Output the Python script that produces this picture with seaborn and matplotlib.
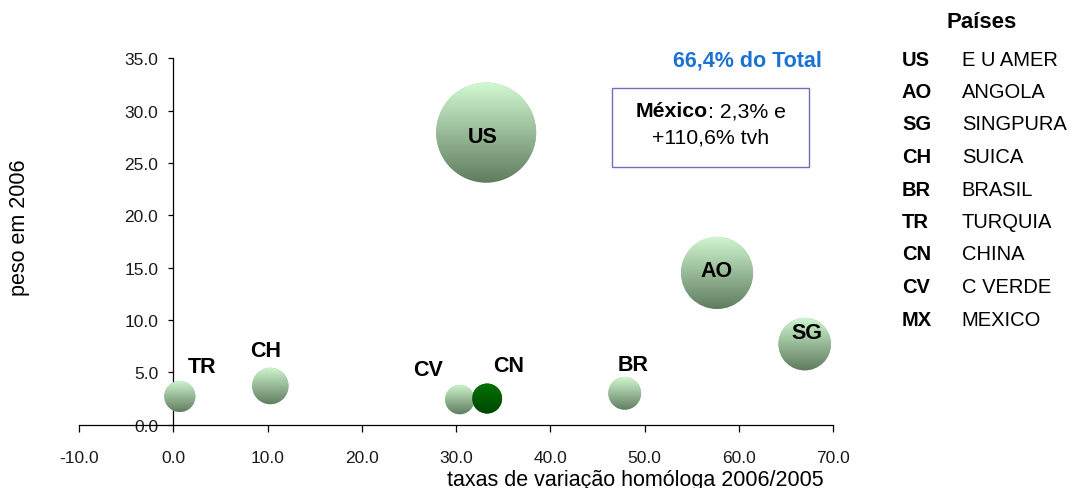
import matplotlib
matplotlib.use("Agg")
import matplotlib.pyplot as plt
import seaborn as sns
import numpy as np
import pandas as pd
from matplotlib.patches import Circle, Rectangle
from matplotlib.transforms import IdentityTransform
from matplotlib.colors import to_rgb

# ---------------- data ----------------
codes = ["US", "AO", "SG", "CH", "BR", "TR", "CN", "CV"]
tvh = [33.2, 57.7, 67.0, 10.3, 47.9, 0.7, 33.3, 30.4]      # taxa de variação homóloga (%)
peso = [27.9, 14.5, 7.7, 3.7, 3.0, 2.7, 2.5, 2.4]          # peso em 2006 (%)
serie = ["base", "base", "base", "base", "base", "base", "destaque", "base"]

legend_codes = ["US", "AO", "SG", "CH", "BR", "TR", "CN", "CV", "MX"]
legend_names = ["E U AMER", "ANGOLA", "SINGPURA", "SUICA", "BRASIL",
                "TURQUIA", "CHINA", "C VERDE", "MEXICO"]
legend_title = "Países"

x_ticks = [-10, 0, 10, 20, 30, 40, 50, 60, 70]
y_ticks = [0, 5, 10, 15, 20, 25, 30, 35]

total_text = "66,4% do Total"
mexico_name = "México"
mexico_text = ": 2,3% e"
mexico_text2 = "+110,6% tvh"
xlabel = "taxas de variação homóloga 2006/2005"
ylabel = "peso em 2006"

# ---------------- style ----------------
sns.set_style("white")
plt.rcParams["font.family"] = ["Liberation Sans", "DejaVu Sans"]
plt.rcParams["text.color"] = "black"

W, H, DPI = 1072, 489, 100
fig = plt.figure(figsize=(W / DPI, H / DPI), dpi=DPI)
ax = fig.add_axes([79 / W, 1 - 425.7 / H, 754 / W, 366.4 / H])

df = pd.DataFrame({"code": codes, "tvh": tvh, "peso": peso, "serie": serie})

grad_cols = {"base": ("#d2fad2", "#5e7a5e"), "destaque": ("#007400", "#004600")}
flat_cols = {"base": "#9cc29c", "destaque": "#005c00"}

sns.scatterplot(data=df, x="tvh", y="peso", size="peso", sizes=(0, 6503),
                size_norm=(0, 35), hue="serie", palette=flat_cols,
                linewidth=0, legend=False, ax=ax, zorder=3)

ax.set_xlim(-10, 70)
ax.set_ylim(0, 35)
ax.set_xticks(x_ticks)
ax.set_yticks(y_ticks)
ax.set_xticklabels([f"{v:.1f}" for v in x_ticks])
ax.set_yticklabels([f"{v:.1f}" for v in y_ticks])
ax.grid(False)

for s in ["top", "right"]:
    ax.spines[s].set_visible(False)
ax.spines["left"].set_position(("data", 0))
ax.spines["bottom"].set_position(("data", 0))
for s in ["left", "bottom"]:
    ax.spines[s].set_color("black")
    ax.spines[s].set_linewidth(0.9)
    ax.spines[s].set_zorder(2)

ax.tick_params(axis="x", direction="out", length=5, width=0.9, color="black",
               pad=13, labelsize=12.5, labelcolor="#1a1a1a", bottom=True)
ax.tick_params(axis="y", direction="out", length=3.3, width=0.9, color="black",
               pad=7.5, labelsize=12.5, labelcolor="#1a1a1a", left=True)

ax.set_xlabel("")
ax.set_ylabel("")
fig.text(635.5 / W, 1 - 486 / H, xlabel, ha="center", va="baseline", fontsize=15.5)
fig.text(20 / W, 1 - 228 / H, ylabel, ha="center", va="center", rotation=90, fontsize=15.5)

# ---------------- gradient bubbles ----------------
coll = ax.collections[0]
sizes = coll.get_sizes()
if len(sizes) == 1:
    sizes = np.repeat(sizes, len(df))
inv = ax.transData.inverted()
for i, row in df.iterrows():
    r = np.sqrt(sizes[i]) / 2 * DPI / 72
    cx, cy = ax.transData.transform((row.tvh, row.peso))
    x0, y0 = inv.transform((cx - r - 1, cy - r - 1))
    x1, y1 = inv.transform((cx + r + 1, cy + r + 1))
    top, bot = (np.array(to_rgb(c)) for c in grad_cols[row.serie])
    t = np.linspace(0, 1, 256)[:, None, None]
    arr = top[None, None, :] * (1 - t) + bot[None, None, :] * t
    z = 5 if row.serie == "destaque" else 4
    im = ax.imshow(arr, extent=(x0, x1, y0, y1), aspect="auto", origin="upper",
                   interpolation="bilinear", zorder=z)
    im.set_clip_path(Circle((cx, cy), r, transform=IdentityTransform()))

ax.set_xlim(-10, 70)
ax.set_ylim(0, 35)

# ---------------- bubble labels ----------------
label_offsets = {"US": (-4, 2), "AO": (-1, -5), "SG": (2, -14), "CH": (-5, -38),
                 "BR": (8, -31.5), "TR": (22, -32.5), "CN": (22, -35), "CV": (-31.5, -32.5)}
lab_fs = 15.5
cap = 0.716 * lab_fs * DPI / 72
for i, row in df.iterrows():
    dx, dy = label_offsets[row.code]
    ax.annotate(row.code, (row.tvh, row.peso), xytext=(dx, -(dy + cap / 2)),
                textcoords="offset pixels", ha="center", va="baseline",
                fontweight="bold", fontsize=lab_fs, color="black", zorder=7)

# ---------------- annotations ----------------
fig.text(822 / W, 1 - 61 / H, total_text, ha="right", va="center",
         fontsize=15.5, fontweight="bold", color="#1c72d4")

fig.patches.append(Rectangle((612.3 / W, 1 - 167.7 / H), (809.3 - 612.3) / W,
                             (167.7 - 89.3) / H, transform=fig.transFigure,
                             facecolor="white", edgecolor="#6d6dbd", linewidth=1.0,
                             zorder=3))
box_cx = 710.8
fs_box = 15.3
t1 = fig.text(0, 1 - 111.7 / H, mexico_name, ha="left", va="center",
              fontsize=fs_box, fontweight="bold", zorder=4)
t2 = fig.text(0, 1 - 111.7 / H, mexico_text, ha="left", va="center",
              fontsize=fs_box, zorder=4)
renderer = fig.canvas.get_renderer()
w1 = t1.get_window_extent(renderer).width
w2 = t2.get_window_extent(renderer).width
start = box_cx - (w1 + w2) / 2
t1.set_x(start / W)
t2.set_x((start + w1) / W)
fig.text(box_cx / W, 1 - 138 / H, mexico_text2, ha="center", va="center",
         fontsize=fs_box, zorder=4)

# ---------------- legend ----------------
fig.text(982 / W, 1 - 22.7 / H, legend_title, ha="center", va="center",
         fontsize=16, fontweight="bold")
for k, (c, n) in enumerate(zip(legend_codes, legend_names)):
    yy = 1 - (60 + 32.5 * k) / H
    fig.text(902 / W, yy, c, ha="left", va="center", fontsize=14.5, fontweight="bold")
    fig.text(961.7 / W, yy, n, ha="left", va="center", fontsize=14.5)

fig.savefig("out.png", dpi=DPI)
